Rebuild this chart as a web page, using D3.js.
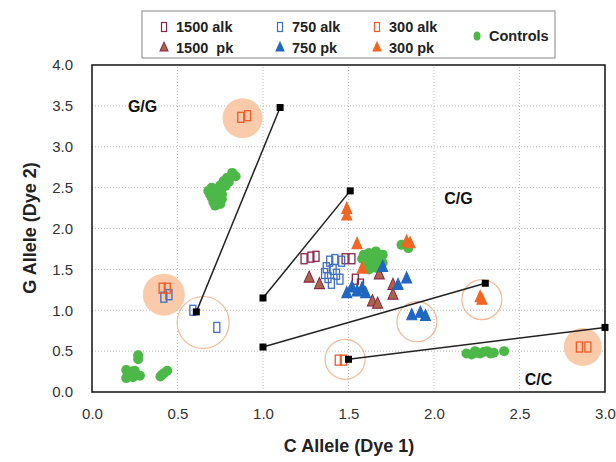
<!DOCTYPE html>
<html>
<head>
<meta charset="utf-8">
<script src="https://cdn.jsdelivr.net/npm/d3@7"></script>
<style>
  body { margin: 0; background: #fff; }
  svg { font-family: "Liberation Sans", Arial, sans-serif; }
</style>
</head>
<body>
<svg id="chart" width="616" height="462"></svg>
<script>
// values
const xTicks = [0, 0.5, 1.0, 1.5, 2.0, 2.5, 3.0];
const yTicks = [0, 0.5, 1.0, 1.5, 2.0, 2.5, 3.0, 3.5, 4.0];

const alk1500 = [[1.24,1.63],[1.28,1.65],[1.31,1.66],[1.48,1.63],[1.52,1.63],[1.54,1.38],[1.57,1.32]];
const alk750 = [[0.42,1.16],[0.45,1.19],[0.59,1.00],[0.73,0.79],[1.36,1.45],[1.38,1.40],[1.39,1.60],[1.41,1.50],
  [1.42,1.62],[1.43,1.44],[1.45,1.38],[1.40,1.33],[1.37,1.52],[1.46,1.60]];
const alk300 = [[0.87,3.36],[0.91,3.38],[0.41,1.27],[0.44,1.27],[1.44,0.39],[1.47,0.39],[2.85,0.55],[2.90,0.55]];
const pk1500 = [[1.27,1.39],[1.33,1.31],[1.64,1.10],[1.67,1.07],[1.76,1.30],[1.76,1.18],[1.68,1.43]];
const pk750 = [[1.49,1.20],[1.52,1.27],[1.55,1.22],[1.58,1.26],[1.60,1.20],[1.70,1.52],[1.79,1.30],[1.84,1.38],
  [1.87,0.93],[1.92,0.96],[1.95,0.92]];
const pk300 = [[1.49,2.23],[1.49,2.15],[1.55,1.80],[1.58,1.50],[1.84,1.83],[1.86,1.81],[2.27,1.15],[2.28,1.12]];
const controls = [
  [0.69,2.42],[0.70,2.50],[0.72,2.28],[0.73,2.36],[0.74,2.45],[0.75,2.53],[0.77,2.58],[0.79,2.62],[0.82,2.68],[0.84,2.64],[0.71,2.32],
  [0.70,2.38],[0.73,2.48],[0.76,2.42],[0.78,2.52],[0.72,2.44],[0.80,2.57],[0.75,2.30],[0.68,2.46],[0.76,2.36],
  [0.27,0.45],[0.27,0.40],[0.20,0.27],[0.22,0.22],[0.24,0.18],[0.20,0.17],[0.26,0.21],[0.28,0.20],[0.23,0.25],[0.40,0.19],[0.42,0.23],[0.44,0.26],[0.41,0.21],
  [0.25,0.26],[0.21,0.21],
  [1.58,1.63],[1.60,1.55],[1.62,1.70],[1.64,1.60],[1.66,1.52],[1.68,1.65],[1.70,1.58],[1.62,1.50],[1.66,1.72],[1.70,1.68],[1.59,1.68],[1.67,1.57],
  [1.63,1.65],[1.65,1.56],[1.61,1.60],[1.68,1.61],
  [1.81,1.80],[1.85,1.76],
  [2.19,0.47],[2.22,0.46],[2.25,0.48],[2.27,0.47],[2.29,0.49],[2.31,0.50],[2.33,0.47],[2.35,0.48],[2.41,0.50],[2.24,0.50]];

// boundary lines between genotype clusters
const boundaries = [
  [[0.61,0.98],[1.10,3.48]],
  [[1.00,1.15],[1.51,2.46]],
  [[1.00,0.55],[2.30,1.33]],
  [[1.50,0.40],[3.00,0.79]]];
// highlight circles: [x, y, radius px]
const filledRings = [[0.88,3.35,20],[0.42,1.19,21],[2.87,0.55,19]];
const openRings = [[0.65,0.85,26],[1.48,0.40,20],[1.90,0.86,20],[2.28,1.13,20]];
const genotypes = [["G/G",0.21,3.43],["C/G",2.06,2.3],["C/C",2.53,0.09]];

const svg = d3.select("#chart");
const x = d3.scaleLinear().domain([0, 3]).range([92, 605]);
const y = d3.scaleLinear().domain([0, 4]).range([392, 65]);

// grid
svg.append("g").selectAll("line").data(xTicks.slice(1, -1)).enter().append("line")
  .attr("x1", d => x(d)).attr("x2", d => x(d)).attr("y1", y(0)).attr("y2", y(4))
  .attr("stroke", "#bbb").attr("stroke-dasharray", "1,2");
svg.append("g").selectAll("line").data(yTicks.slice(1, -1)).enter().append("line")
  .attr("x1", x(0)).attr("x2", x(3)).attr("y1", d => y(d)).attr("y2", d => y(d))
  .attr("stroke", "#bbb").attr("stroke-dasharray", "1,2");

// axes (labels only, frame drawn separately)
let xAxis = svg.append("g").attr("transform", `translate(0,${y(0)})`)
  .call(d3.axisBottom(x).tickValues(xTicks).tickFormat(d3.format(".1f")).tickSize(0).tickPadding(16));
let yAxis = svg.append("g").attr("transform", `translate(${x(0)},0)`)
  .call(d3.axisLeft(y).tickValues(yTicks).tickFormat(d3.format(".1f")).tickSize(0).tickPadding(19));
[xAxis, yAxis].forEach(a => {
  a.select(".domain").remove();
  a.selectAll("text").attr("font-size", 15).attr("fill", "#333").attr("font-family", "Liberation Sans, Arial, sans-serif");
});

svg.append("rect").attr("x", x(0)).attr("y", y(4)).attr("width", x(3) - x(0)).attr("height", y(0) - y(4))
  .attr("fill", "none").attr("stroke", "#111").attr("stroke-width", 1.5);

// rings
svg.append("g").selectAll("circle").data(filledRings).enter().append("circle")
  .attr("cx", d => x(d[0])).attr("cy", d => y(d[1])).attr("r", d => d[2])
  .attr("fill", "#f8c5a2").attr("opacity", 0.9);
svg.append("g").selectAll("circle").data(openRings).enter().append("circle")
  .attr("cx", d => x(d[0])).attr("cy", d => y(d[1])).attr("r", d => d[2])
  .attr("fill", "none").attr("stroke", "#f4b894").attr("stroke-width", 1.2);

// markers
const triangle = d3.symbol().type(d3.symbolTriangle).size(55);
function rects(data, colour){
  svg.append("g").selectAll("rect").data(data).enter().append("rect")
    .attr("x", d => x(d[0]) - 3).attr("y", d => y(d[1]) - 5)
    .attr("width", 6).attr("height", 10)
    .attr("fill", "none").attr("stroke", colour).attr("stroke-width", 1.3);
}
function tris(data, fill, stroke){
  svg.append("g").selectAll("path").data(data).enter().append("path")
    .attr("d", triangle)
    .attr("transform", d => `translate(${x(d[0])},${y(d[1])}) scale(0.9,1.15)`)
    .attr("fill", fill).attr("stroke", stroke).attr("stroke-width", 1);
}
svg.append("g").selectAll("circle").data(controls).enter().append("circle")
  .attr("cx", d => x(d[0])).attr("cy", d => y(d[1])).attr("r", 5)
  .attr("fill", "#4cb847");
rects(alk1500, "#8b2347");
rects(alk750, "#3f6fc2");
rects(alk300, "#f05a28");
tris(pk1500, "#a8654a", "#8b2347");
tris(pk750, "#1f67c0", "#1f67c0");
tris(pk300, "#f26522", "#f26522");

// boundary lines
boundaries.forEach(b => {
  svg.append("line")
    .attr("x1", x(b[0][0])).attr("y1", y(b[0][1])).attr("x2", x(b[1][0])).attr("y2", y(b[1][1]))
    .attr("stroke", "#222").attr("stroke-width", 1.5);
  svg.append("g").selectAll("rect").data(b).enter().append("rect")
    .attr("x", d => x(d[0]) - 3.5).attr("y", d => y(d[1]) - 3.5)
    .attr("width", 7).attr("height", 7).attr("fill", "#000");
});

svg.selectAll(".geno").data(genotypes).enter().append("text")
  .attr("class", "geno")
  .attr("x", d => x(d[1])).attr("y", d => y(d[2]))
  .attr("font-size", 16).attr("font-weight", "bold").attr("fill", "#111")
  .text(d => d[0]);

// axis titles
svg.append("text").attr("x", 349).attr("y", 452).attr("text-anchor", "middle")
  .attr("font-size", 18).attr("font-weight", "bold").attr("fill", "#222").text("C Allele (Dye 1)");
svg.append("text").attr("transform", "translate(36,228) rotate(-90)").attr("text-anchor", "middle")
  .attr("font-size", 18).attr("font-weight", "bold").attr("fill", "#222").text("G Allele (Dye 2)");

// legend
const legend = svg.append("g");
legend.append("rect").attr("x", 142).attr("y", 11).attr("width", 413).attr("height", 47)
  .attr("fill", "#fff").attr("stroke", "#999").attr("stroke-width", 1.2);
const legendItems = [
  ["1500 alk", "rect", "none", "#8b2347", 164, 27],
  ["750 alk", "rect", "none", "#3f6fc2", 280, 27],
  ["300 alk", "rect", "none", "#f05a28", 377, 27],
  ["1500  pk", "tri", "#a8654a", "#8b2347", 164, 48],
  ["750 pk", "tri", "#1f67c0", "#1f67c0", 280, 48],
  ["300 pk", "tri", "#f26522", "#f26522", 377, 48],
  ["Controls", "dot", "#4cb847", "none", 477, 36]];
legendItems.forEach(it => {
  if (it[1] === "rect") {
    legend.append("rect").attr("x", it[4] - 2.5).attr("y", it[5] - 4.5).attr("width", 5).attr("height", 9)
      .attr("fill", "none").attr("stroke", it[3]).attr("stroke-width", 1.2);
  } else if (it[1] === "tri") {
    legend.append("path").attr("d", d3.symbol().type(d3.symbolTriangle).size(35))
      .attr("transform", `translate(${it[4]},${it[5]}) scale(0.9,1.15)`)
      .attr("fill", it[2]).attr("stroke", it[3]);
  } else {
    legend.append("ellipse").attr("cx", it[4]).attr("cy", it[5]).attr("rx", 3.5).attr("ry", 4.5).attr("fill", it[2]);
  }
  legend.append("text").attr("x", it[4] + 12).attr("y", it[5] + 5)
    .attr("font-size", 14.5).attr("font-weight", "bold").attr("fill", "#222")
    .attr("xml:space", "preserve").style("white-space", "pre")
    .text(it[0]);
});
</script>
</body>
</html>
